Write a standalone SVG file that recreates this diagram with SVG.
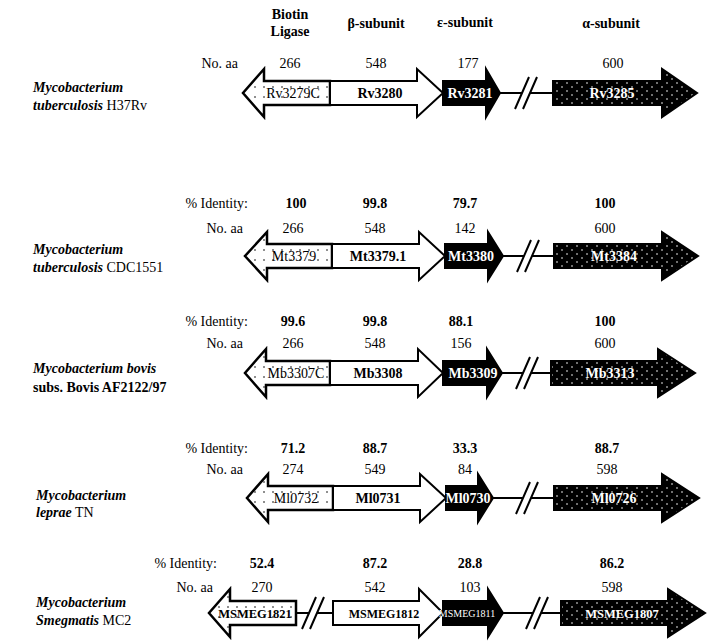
<svg xmlns="http://www.w3.org/2000/svg" width="719" height="642" viewBox="0 0 719 642" font-family="'Liberation Serif', 'DejaVu Serif', serif">
<style>
text{font-family:"Liberation Serif","DejaVu Serif",serif;fill:#000}
.hd{font-size:14px;font-weight:bold;text-anchor:middle}
.num{font-size:14px;text-anchor:middle}
.idn{font-size:14px;font-weight:bold;text-anchor:middle}
.lab{font-size:14px;text-anchor:end}
.sp{font-size:14px}
.bi{font-weight:bold;font-style:italic}
.b{font-weight:bold}
.gl{font-size:14px;text-anchor:middle}
.gb{font-size:14px;font-weight:bold;text-anchor:middle}
.gw{font-size:14px;font-weight:bold;text-anchor:middle;fill:#fff}
.lig{fill:url(#dotW);stroke:#000;stroke-width:2.5}
.beta{fill:#fff;stroke:#000;stroke-width:2}
.eps{fill:#000;stroke:#000;stroke-width:2}
.alp{fill:url(#dotB);stroke:#000;stroke-width:2}
.ln{stroke:#000;stroke-width:2;fill:none}
</style>
<defs>
<pattern id="dotW" patternUnits="userSpaceOnUse" width="9" height="10" y="-1">
<rect width="9" height="10" fill="#fff"/>
<circle cx="3" cy="5" r="0.8" fill="#000"/>
</pattern>
<pattern id="dotB" patternUnits="userSpaceOnUse" width="10" height="8">
<rect width="10" height="8" fill="#000"/>
<circle cx="2" cy="2" r="0.8" fill="#fff"/>
<circle cx="7" cy="6" r="0.8" fill="#fff"/>
</pattern>
</defs>
<rect width="719" height="642" fill="#fff"/>

<g id="headers">
<text class="hd" x="290" y="19">Biotin</text>
<text class="hd" x="290" y="36">Ligase</text>
<text class="hd" x="376" y="28">β-subunit</text>
<text class="hd" x="465" y="27">ε-subunit</text>
<text class="hd" x="611" y="28">α-subunit</text>
</g>

<g id="labels">
<text class="lab" x="238" y="68">No. aa</text>
<text class="num" x="290" y="68">266</text>
<text class="num" x="376" y="68">548</text>
<text class="num" x="468" y="68">177</text>
<text class="num" x="613" y="68">600</text>
<text class="sp" x="33" y="92"><tspan class="bi">Mycobacterium</tspan></text>
<text class="sp" x="33" y="110"><tspan class="bi">tuberculosis</tspan> H37Rv</text>

<text class="lab" x="248" y="208">% Identity:</text>
<text class="idn" x="296" y="208">100</text>
<text class="idn" x="375" y="208">99.8</text>
<text class="idn" x="465" y="208">79.7</text>
<text class="idn" x="605" y="208">100</text>
<text class="lab" x="243" y="233">No. aa</text>
<text class="num" x="293" y="233">266</text>
<text class="num" x="375" y="233">548</text>
<text class="num" x="465" y="233">142</text>
<text class="num" x="605" y="233">600</text>
<text class="sp" x="33" y="254"><tspan class="bi">Mycobacterium</tspan></text>
<text class="sp" x="33" y="272"><tspan class="bi">tuberculosis</tspan> CDC1551</text>

<text class="lab" x="248" y="326">% Identity:</text>
<text class="idn" x="293" y="326">99.6</text>
<text class="idn" x="375" y="326">99.8</text>
<text class="idn" x="461" y="326">88.1</text>
<text class="idn" x="605" y="326">100</text>
<text class="lab" x="243" y="348">No. aa</text>
<text class="num" x="293" y="348">266</text>
<text class="num" x="375" y="348">548</text>
<text class="num" x="461" y="348">156</text>
<text class="num" x="605" y="348">600</text>
<text class="sp" x="33" y="373"><tspan class="bi">Mycobacterium bovis</tspan></text>
<text class="sp b" x="33" y="392">subs. Bovis AF2122/97</text>

<text class="lab" x="248" y="453">% Identity:</text>
<text class="idn" x="293" y="453">71.2</text>
<text class="idn" x="375" y="453">88.7</text>
<text class="idn" x="465" y="453">33.3</text>
<text class="idn" x="607" y="453">88.7</text>
<text class="lab" x="243" y="474">No. aa</text>
<text class="num" x="293" y="474">274</text>
<text class="num" x="375" y="474">549</text>
<text class="num" x="465" y="474">84</text>
<text class="num" x="607" y="474">598</text>
<text class="sp" x="36" y="500"><tspan class="bi">Mycobacterium</tspan></text>
<text class="sp" x="36" y="517"><tspan class="bi">leprae</tspan> TN</text>

<text class="lab" x="217" y="568">% Identity:</text>
<text class="idn" x="262" y="568">52.4</text>
<text class="idn" x="375" y="568">87.2</text>
<text class="idn" x="470" y="568">28.8</text>
<text class="idn" x="612" y="568">86.2</text>
<text class="lab" x="213" y="592">No. aa</text>
<text class="num" x="262" y="592">270</text>
<text class="num" x="375" y="592">542</text>
<text class="num" x="470" y="592">103</text>
<text class="num" x="612" y="592">598</text>
<text class="sp" x="36" y="607"><tspan class="bi">Mycobacterium</tspan></text>
<text class="sp" x="36" y="625"><tspan class="bi">Smegmatis</tspan> MC2</text>
</g>

<g id="connectors">
<g transform="translate(0,93)">
<path class="ln" d="M500,0 H522 M530,0 H553 M515,16 L529,-16 M523,16 L537,-16"/>
</g>
<g transform="translate(0,256)">
<path class="ln" d="M503,0 H524 M532,0 H554 M517,16 L531,-16 M525,16 L539,-16"/>
</g>
<g transform="translate(0,373)">
<path class="ln" d="M502,0 H523 M531,0 H551 M516,16 L530,-16 M524,16 L538,-16"/>
</g>
<g transform="translate(0,498)">
<path class="ln" d="M493,0 H523 M531,0 H554 M516,16 L530,-16 M524,16 L538,-16"/>
</g>
<g transform="translate(0,613)">
<path class="ln" d="M296,0 H309 M317,0 H333 M302,16 L316,-16 M310,16 L324,-16"/>
<path class="ln" d="M503,0 H533 M541,0 H561 M526,16 L540,-16 M534,16 L548,-16"/>
</g>
</g>

<g id="row1" transform="translate(0,93)">
<g id="Rv3279C"><path class="lig" d="M330,-12 H264 V-24 L243,0 L264,24 V12 H330 Z"/><text class="gl" x="293" y="5">Rv3279C</text></g>
<g id="Rv3280"><path class="beta" d="M330,-12 H417 V-24 L443,0 L417,24 V12 H330 Z"/><text class="gb" x="380" y="5">Rv3280</text></g>
<g id="Rv3281"><path class="eps" d="M443,-12 H486 V-24 L500,0 L486,24 V12 H443 Z"/><text class="gw" x="470" y="5">Rv3281</text></g>
<g id="Rv3285"><path class="alp" d="M553,-12 H662 V-24 L697,0 L662,24 V12 H553 Z"/><text class="gw" x="612" y="5">Rv3285</text></g>
</g>

<g id="row2" transform="translate(0,256)">
<g id="Mt3379"><path class="lig" d="M332,-12 H267 V-24 L245,0 L267,24 V12 H332 Z"/><text class="gl" x="294" y="5">Mt3379</text></g>
<g id="Mt3379.1"><path class="beta" d="M332,-12 H419 V-24 L445,0 L419,24 V12 H332 Z"/><text class="gb" x="378" y="5">Mt3379.1</text></g>
<g id="Mt3380"><path class="eps" d="M445,-12 H488 V-24 L503,0 L488,24 V12 H445 Z"/><text class="gw" x="471" y="5">Mt3380</text></g>
<g id="Mt3384"><path class="alp" d="M554,-12 H662 V-24 L698,0 L662,24 V12 H554 Z"/><text class="gw" x="614" y="5">Mt3384</text></g>
</g>

<g id="row3" transform="translate(0,373)">
<g id="Mb3307C"><path class="lig" d="M330,-12 H266 V-24 L245,0 L266,24 V12 H330 Z"/><text class="gl" x="296" y="5">Mb3307C</text></g>
<g id="Mb3308"><path class="beta" d="M330,-12 H418 V-24 L443,0 L418,24 V12 H330 Z"/><text class="gb" x="378" y="5">Mb3308</text></g>
<g id="Mb3309"><path class="eps" d="M443,-12 H487 V-24 L502,0 L487,24 V12 H443 Z"/><text class="gw" x="473" y="5">Mb3309</text></g>
<g id="Mb3313"><path class="alp" d="M551,-12 H658 V-24 L695,0 L658,24 V12 H551 Z"/><text class="gw" x="610" y="5">Mb3313</text></g>
</g>

<g id="row4" transform="translate(0,498)">
<g id="Ml0732"><path class="lig" d="M333,-12 H268 V-24 L247,0 L268,24 V12 H333 Z"/><text class="gl" x="296" y="5">Ml0732</text></g>
<g id="Ml0731"><path class="beta" d="M333,-12 H420 V-24 L446,0 L420,24 V12 H333 Z"/><text class="gb" x="378" y="5">Ml0731</text></g>
<g id="Ml0730"><path class="eps" d="M446,-12 H478 V-24 L493,0 L478,24 V12 H446 Z"/><text class="gw" x="468" y="5">Ml0730</text></g>
<g id="Ml0726"><path class="alp" d="M554,-12 H662 V-24 L699,0 L662,24 V12 H554 Z"/><text class="gw" x="614" y="5">Ml0726</text></g>
</g>

<g id="row5" transform="translate(0,613)">
<g id="MSMEG1821"><path class="lig" d="M296,-12 H230 V-24 L209,0 L230,24 V12 H296 Z"/><text class="gb" x="255" y="5" style="font-size:12.5px">MSMEG1821</text></g>
<g id="MSMEG1812"><path class="beta" d="M333,-12 H419 V-24 L443,0 L419,24 V12 H333 Z"/><text class="gb" x="384" y="5" style="font-size:12px">MSMEG1812</text></g>
<g id="MSMEG1811"><path class="eps" d="M443,-12 H488 V-24 L503,0 L488,24 V12 H443 Z"/><text class="gw" x="467" y="4" style="font-size:10px;font-weight:normal">MSMEG1811</text></g>
<g id="MSMEG1807"><path class="alp" d="M561,-12 H668 V-24 L705,0 L668,24 V12 H561 Z"/><text class="gw" x="622" y="5" style="font-size:12.5px">MSMEG1807</text></g>
</g>
</svg>
